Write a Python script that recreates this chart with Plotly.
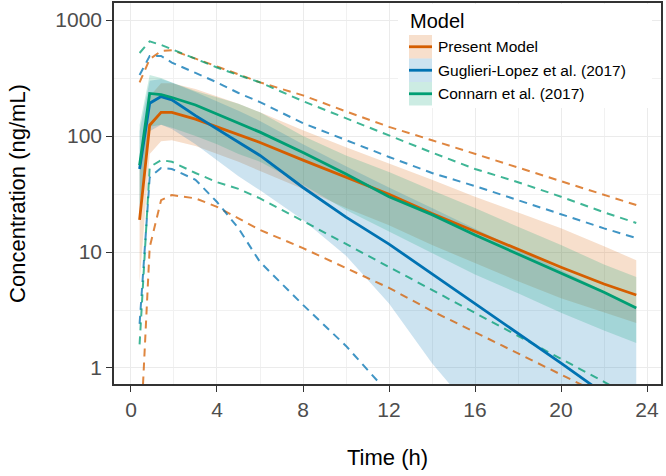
import plotly.graph_objects as go

# ---------------- data ----------------
time_h = [0.4, 0.87, 1.4, 1.9, 3, 4, 5, 6, 8, 10, 12, 14, 16, 18, 20, 22, 23.5]

model_names = ["Present Model", "Guglieri-Lopez et al. (2017)", "Connarn et al. (2017)"]

present_median = [18.9, 124, 160, 160, 140, 120, 104, 88, 62, 44, 31.5, 21.5, 15, 10.5, 7.4, 5.3, 4.26]
present_lower = [5.5, 70, 90, 92, 82, 70, 60, 50, 35, 24, 17, 11.5, 8, 5.6, 4, 3, 2.44]
present_upper = [60, 220, 285, 285, 255, 220, 190, 160, 112, 80, 58, 42, 30, 22, 16, 11.2, 8.5]
present_p95 = [290, 460, 540, 550, 465, 395, 340, 290, 224, 163, 120, 92, 70, 54, 41, 31, 25.4]
present_p05 = [0.18, 11, 28, 31, 29, 24.5, 19.5, 15.5, 10.8, 7.3, 4.9, 3.1, 2.04, 1.35, 0.89, 0.58, 0.42]

guglieri_median = [52, 192, 219, 205, 150, 115, 89, 68, 36, 20, 11.7, 6.5, 3.6, 2.0, 1.1, 0.6, 0.4]
guglieri_lower = [22, 110, 125, 115, 85, 62, 45, 34, 18.9, 9.3, 3.6, 1.1, 0.4, 0.2, 0.1, 0.06, 0.05]
guglieri_upper = [110, 300, 310, 290, 240, 200, 165, 135, 85, 55, 36, 24, 16, 10.5, 7, 4.6, 3.3]
guglieri_p95 = [336, 490, 490, 430, 350, 290, 235, 196, 129, 92, 66, 48, 37, 28, 21, 16, 13.2]
guglieri_p05 = [2.4, 44, 53, 52, 42, 27, 16, 8.2, 3.5, 1.55, 0.6, 0.1, 0.03, 0.01, 0.005, 0.003, 0.002]

connarn_median = [56, 233, 228, 215, 185, 155, 129, 108, 72, 47, 30, 21, 14, 9.6, 6.6, 4.5, 3.29]
connarn_lower = [25, 120, 125, 118, 100, 85, 70, 60, 38, 23, 15, 9.8, 6.4, 4.4, 3.0, 2.1, 1.64]
connarn_upper = [125, 336, 316, 290, 245, 215, 190, 160, 100, 68, 49, 34, 24, 16.5, 11.5, 7.8, 6.1]
connarn_p95 = [520, 655, 610, 560, 470, 390, 335, 290, 200, 142, 102, 72, 52, 40, 30, 22, 17.8]
connarn_p05 = [1.6, 54, 62, 60, 48, 40, 35, 29, 18.5, 11.7, 7.4, 4.7, 3.0, 1.9, 1.2, 0.76, 0.53]

x_ticks = [0, 4, 8, 12, 16, 20, 24]
x_minor = [2, 6, 10, 14, 18, 22]
y_ticks = [1, 10, 100, 1000]
y_tick_labels = ["1", "10", "100", "1000"]
y_minor = [3.1623, 31.623, 316.23]

# ---------------- styling ----------------
colors = ["#D55E00", "#0072B2", "#009E73"]
fills = ["rgba(213,94,0,0.2)", "rgba(0,114,178,0.2)", "rgba(0,158,115,0.2)"]
FONT = "Liberation Sans, Arial, Helvetica, sans-serif"

W, H = 666, 476
ML, MR, MT, MB = 114, 5, 3, 92

series = [
    (present_median, present_lower, present_upper, present_p05, present_p95),
    (guglieri_median, guglieri_lower, guglieri_upper, guglieri_p05, guglieri_p95),
    (connarn_median, connarn_lower, connarn_upper, connarn_p05, connarn_p95),
]

fig = go.Figure()

# ribbons
for (med, lo, hi, p05, p95), col, fc, name in zip(series, colors, fills, model_names):
    fig.add_trace(go.Scatter(x=time_h, y=hi, mode="lines", line=dict(width=0, color=col),
                             showlegend=False, hoverinfo="skip"))
    fig.add_trace(go.Scatter(x=time_h, y=lo, mode="lines", line=dict(width=0, color=col),
                             fill="tonexty", fillcolor=fc, showlegend=False, name=name))

# dashed percentile lines
for (med, lo, hi, p05, p95), col, name in zip(series, colors, model_names):
    for yy in (p95, p05):
        fig.add_trace(go.Scatter(x=time_h, y=yy, mode="lines", opacity=0.75,
                                 line=dict(color=col, width=2, dash="8px,6px"),
                                 showlegend=False, name=name))

# median lines
for (med, lo, hi, p05, p95), col, name in zip(series, colors, model_names):
    fig.add_trace(go.Scatter(x=time_h, y=med, mode="lines",
                             line=dict(color=col, width=2.8), showlegend=False, name=name))

# ---------------- manual legend (ggplot-like keys) ----------------
PW = W - ML - MR
PH = H - MT - MB


def px_x(px):
    return (px - ML) / PW


def px_y(py):
    return (H - MB - py) / PH


shapes = [dict(type="rect", xref="paper", yref="paper", layer="above",
               x0=px_x(398), x1=px_x(652), y0=px_y(108), y1=px_y(4),
               fillcolor="white", line=dict(width=0))]
annotations = [dict(text="Model", xref="paper", yref="paper", x=px_x(408), y=px_y(21),
                    xanchor="left", yanchor="middle", showarrow=False,
                    font=dict(family=FONT, size=20, color="black"))]
key_top = 35
key_h = 23.5
for i, (name, col, fc) in enumerate(zip(model_names, colors, fills)):
    y0 = key_top + i * key_h
    y1 = y0 + key_h
    shapes.append(dict(type="rect", xref="paper", yref="paper", layer="above",
                       x0=px_x(409), x1=px_x(432), y0=px_y(y1), y1=px_y(y0),
                       fillcolor=fc, line=dict(width=0)))
    shapes.append(dict(type="line", xref="paper", yref="paper", layer="above",
                       x0=px_x(409), x1=px_x(432), y0=px_y((y0 + y1) / 2), y1=px_y((y0 + y1) / 2),
                       line=dict(color=col, width=2.8)))
    annotations.append(dict(text=name, xref="paper", yref="paper", x=px_x(436),
                            y=px_y((y0 + y1) / 2), xanchor="left", yanchor="middle",
                            showarrow=False, font=dict(family=FONT, size=15.5, color="black")))

fig.update_layout(
    width=W, height=H,
    margin=dict(l=ML, r=MR, t=MT, b=MB),
    paper_bgcolor="white", plot_bgcolor="white",
    showlegend=False,
    font=dict(family=FONT),
    shapes=shapes,
    annotations=annotations,
)

fig.update_xaxes(
    range=[-0.79, 24.65],
    tickvals=x_ticks, ticktext=[str(v) for v in x_ticks],
    ticks="outside", ticklen=6, tickwidth=1.2, tickcolor="#333333",
    tickfont=dict(family=FONT, size=21, color="#4d4d4d"),
    showgrid=True, gridcolor="#ebebeb", gridwidth=1.2,
    minor=dict(tickmode="array", tickvals=x_minor, showgrid=True, gridcolor="#f1f1f1",
               gridwidth=0.8, ticks=""),
    showline=True, linecolor="#333333", linewidth=1.5, mirror=True,
    zeroline=False,
    title=dict(text="Time (h)", font=dict(family=FONT, size=22, color="black"), standoff=30),
    automargin=False,
)

fig.update_yaxes(
    type="log",
    range=[-0.138, 3.147],
    tickvals=y_ticks, ticktext=y_tick_labels,
    ticks="outside", ticklen=6, tickwidth=1.2, tickcolor="#333333",
    tickfont=dict(family=FONT, size=21, color="#4d4d4d"),
    showgrid=True, gridcolor="#ebebeb", gridwidth=1.2,
    minor=dict(tickmode="array", tickvals=y_minor, showgrid=True, gridcolor="#f1f1f1",
               gridwidth=0.8, ticks=""),
    showline=True, linecolor="#333333", linewidth=1.5, mirror=True,
    zeroline=False,
    title=dict(text="Concentration (ng/mL)", font=dict(family=FONT, size=22, color="black"),
               standoff=24),
    automargin=False,
)

fig.write_html("out.html", config={"displayModeBar": False},
               post_script="document.body.style.margin='0';")
